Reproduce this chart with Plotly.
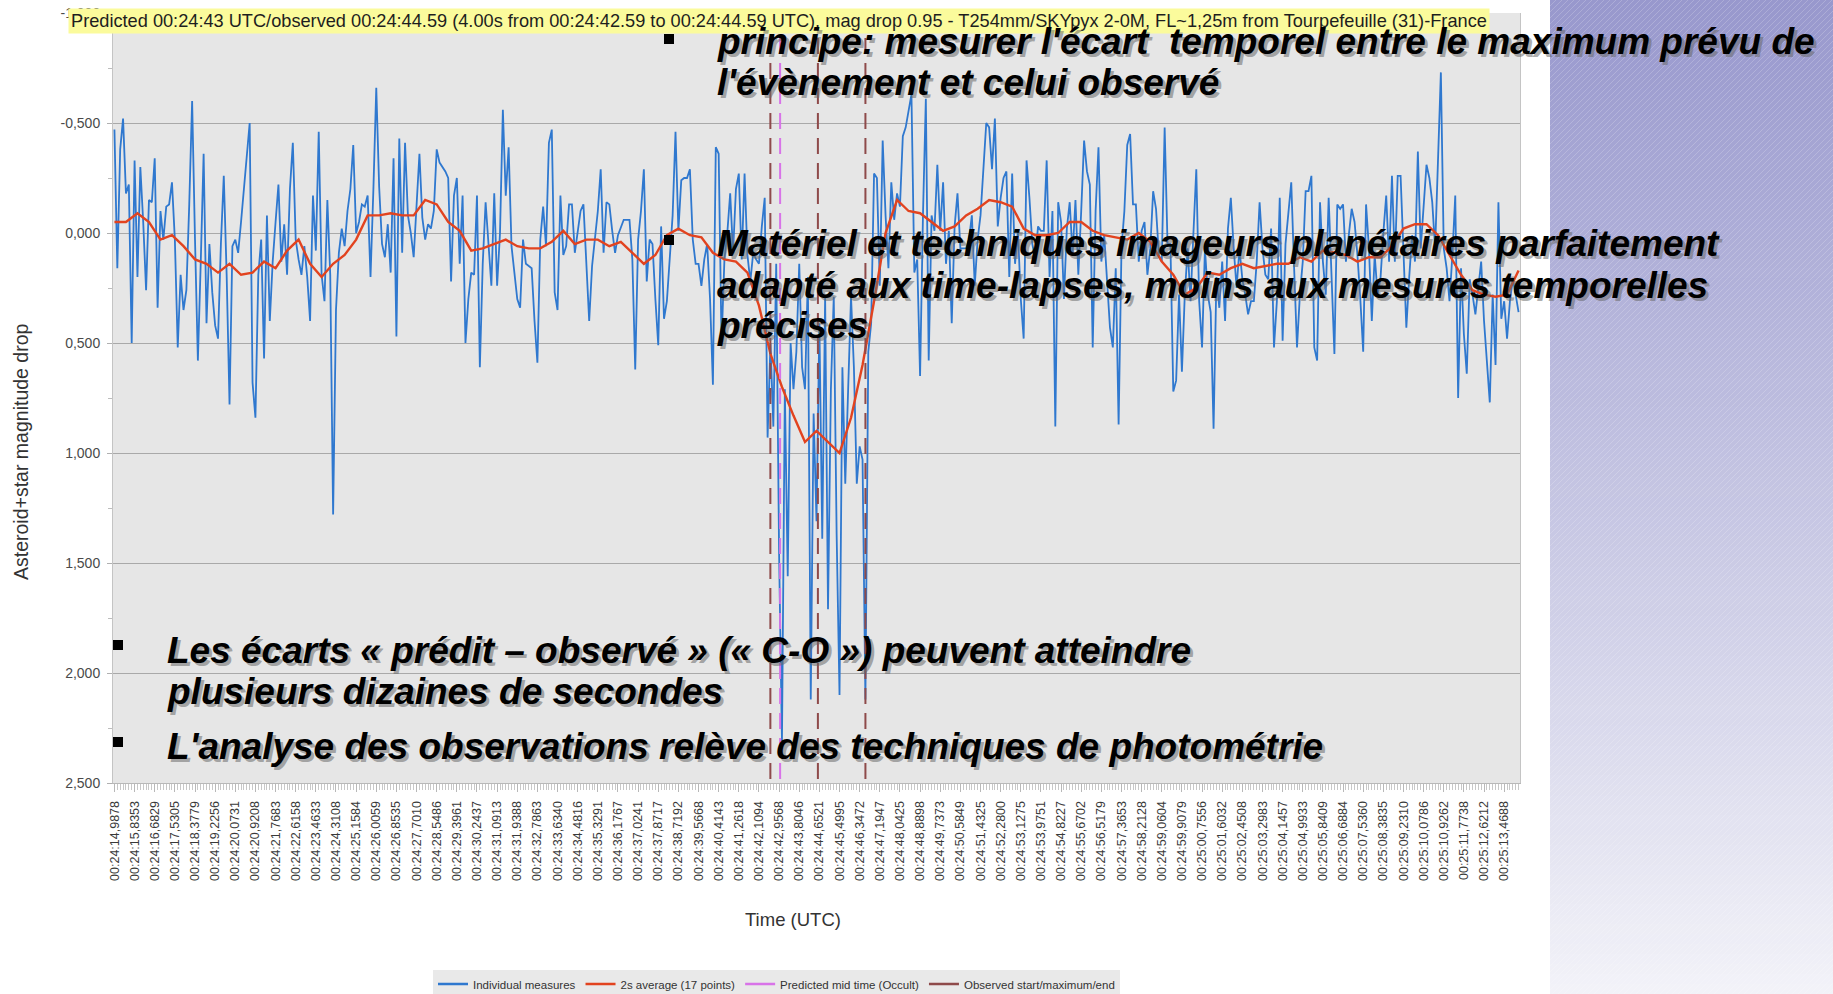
import plotly.graph_objects as go

W, H = 1833, 994

# ---------------- data ----------------
time_labels = [
    "00:24:14,9878", "00:24:15,8353", "00:24:16,6829", "00:24:17,5305", "00:24:18,3779",
    "00:24:19,2256", "00:24:20,0731", "00:24:20,9208", "00:24:21,7683", "00:24:22,6158",
    "00:24:23,4633", "00:24:24,3108", "00:24:25,1584", "00:24:26,0059", "00:24:26,8535",
    "00:24:27,7010", "00:24:28,5486", "00:24:29,3961", "00:24:30,2437", "00:24:31,0913",
    "00:24:31,9388", "00:24:32,7863", "00:24:33,6340", "00:24:34,4816", "00:24:35,3291",
    "00:24:36,1767", "00:24:37,0241", "00:24:37,8717", "00:24:38,7192", "00:24:39,5668",
    "00:24:40,4143", "00:24:41,2618", "00:24:42,1094", "00:24:42,9568", "00:24:43,8046",
    "00:24:44,6521", "00:24:45,4995", "00:24:46,3472", "00:24:47,1947", "00:24:48,0425",
    "00:24:48,8898", "00:24:49,7373", "00:24:50,5849", "00:24:51,4325", "00:24:52,2800",
    "00:24:53,1275", "00:24:53,9751", "00:24:54,8227", "00:24:55,6702", "00:24:56,5179",
    "00:24:57,3653", "00:24:58,2128", "00:24:59,0604", "00:24:59,9079", "00:25:00,7556",
    "00:25:01,6032", "00:25:02,4508", "00:25:03,2983", "00:25:04,1457", "00:25:04,9933",
    "00:25:05,8409", "00:25:06,6884", "00:25:07,5360", "00:25:08,3835", "00:25:09,2310",
    "00:25:10,0786", "00:25:10,9262", "00:25:11,7738", "00:25:12,6212", "00:25:13,4688",
]
POINTS_PER_LABEL = 7

# individual measures (magnitude drop), one per frame
blue = [
    -0.47, 0.16, -0.38, -0.52, -0.18, -0.22, 0.50, -0.33, 0.20, -0.30,
    -0.05, 0.26, -0.15, -0.14, -0.34, 0.34, -0.10, 0.03, -0.12, -0.13,
    -0.23, 0.03, 0.52, 0.19, 0.35, 0.26, -0.13, -0.60, 0.03, 0.58,
    0.13, -0.36, 0.41, 0.05, 0.27, 0.42, 0.48, 0.05, -0.26, 0.19,
    0.78, 0.06, 0.03, 0.09, -0.05, -0.21, -0.35, -0.50, 0.68, 0.84,
    0.19, 0.03, 0.57, -0.08, 0.40, 0.13, -0.05, -0.22, 0.13, -0.04,
    0.19, -0.20, -0.41, 0.03, 0.12, 0.19, 0.06, 0.20, 0.40, -0.17,
    0.08, -0.46, 0.19, 0.31, -0.15, 0.19, 1.28, 0.35, 0.09, -0.02,
    0.06, -0.10, -0.20, -0.40, 0.00, -0.05, -0.13, -0.12, -0.17, 0.20,
    -0.20, -0.66, -0.21, 0.05, 0.11, -0.04, 0.18, -0.34, 0.47, -0.43,
    0.09, -0.41, -0.08, 0.00, 0.11, -0.10, -0.36, -0.07, 0.03, -0.04,
    -0.02, -0.10, -0.38, -0.32, -0.30, -0.28, -0.25, 0.22, -0.17, -0.25,
    0.14, -0.17, 0.50, 0.30, 0.18, 0.19, -0.17, 0.61, 0.14, -0.14,
    0.05, 0.24, -0.18, 0.24, 0.00, -0.56, -0.17, -0.39, 0.06, 0.19,
    0.30, 0.34, 0.03, 0.14, 0.15, 0.16, 0.40, 0.59, 0.03, -0.12,
    0.06, -0.41, -0.47, 0.27, 0.35, -0.17, 0.10, 0.06, -0.13, -0.13,
    0.09, 0.00, -0.10, -0.13, 0.12, 0.40, 0.15, 0.03, -0.10, -0.29,
    0.09, -0.14, -0.13, -0.01, 0.09, 0.01, -0.03, -0.06, -0.06, -0.06,
    0.12, 0.62, 0.03, -0.10, -0.29, 0.22, 0.03, 0.05, 0.30, 0.51,
    -0.03, 0.39, 0.31, 0.10, -0.08, -0.46, -0.01, -0.24, -0.25, -0.25,
    -0.29, 0.03, 0.14, 0.14, 0.24, 0.12, 0.05, 0.30, 0.69, -0.39,
    -0.36, 0.50, 0.12, 0.00, -0.18, 0.09, -0.20, -0.27, 0.12, -0.27,
    0.10, 0.22, 0.09, 0.12, 0.14, -0.03, -0.16, 0.93, 0.50, 0.88,
    0.14, 1.46, 2.31, 0.71, 1.56, 0.50, 0.71, 0.54, 0.14, 0.61,
    0.71, 0.20, 2.12, 0.82, 1.31, 0.41, 1.39, 0.29, 1.71, 0.71,
    0.29, 1.37, 2.10, 0.61, 1.14, 0.71, 0.29, 0.61, 1.14, 0.97,
    1.03, 2.12, 0.54, 0.41, -0.27, -0.25, 0.24, -0.42, -0.08, 0.16,
    -0.23, -0.06, -0.18, -0.12, -0.44, -0.48, -0.55, -0.63, 0.18, 0.12,
    0.65, -0.08, -0.61, 0.58, -0.08, -0.01, -0.31, -0.01, -0.23, 0.14,
    -0.01, 0.41, -0.03, -0.18, 0.07, 0.07, 0.07, 0.03, -0.08, 0.24,
    0.03, -0.08, -0.30, -0.50, -0.48, -0.29, -0.52, -0.03, -0.16, -0.25,
    -0.28, 0.20, -0.27, 0.14, -0.01, 0.30, 0.48, -0.33, -0.16, 0.05,
    0.12, -0.03, -0.01, -0.01, -0.33, 0.20, -0.10, 0.88, -0.14, -0.05,
    0.30, -0.02, -0.14, 0.10, -0.15, 0.19, -0.10, -0.42, -0.28, -0.22,
    0.52, -0.10, -0.39, 0.13, 0.01, 0.20, 0.43, 0.52, 0.16, 0.87,
    0.07, -0.10, -0.40, -0.45, -0.13, -0.13, 0.13, -0.01, -0.05, 0.19,
    0.07, -0.19, -0.11, 0.10, 0.13, -0.48, 0.05, 0.05, 0.72, 0.67,
    0.28, 0.63, 0.28, 0.07, 0.31, 0.00, -0.29, 0.31, 0.52, 0.07,
    0.28, 0.36, 0.89, 0.20, 0.34, 0.13, 0.40, -0.02, -0.16, 0.07,
    0.25, 0.07, 0.21, 0.28, 0.37, 0.31, 0.31, 0.13, -0.14, 0.07,
    0.19, 0.21, -0.02, 0.52, 0.31, -0.16, 0.49, 0.05, -0.10, -0.23,
    0.16, 0.52, 0.28, 0.13, -0.19, -0.19, -0.26, 0.52, 0.58, -0.14,
    0.13, 0.28, -0.16, 0.20, 0.55, -0.13, -0.11, -0.13, 0.13, 0.01,
    -0.11, -0.05, 0.10, 0.30, 0.54, -0.13, 0.07, 0.40, 0.10, 0.28,
    0.21, 0.00, -0.17, 0.13, -0.26, 0.13, -0.26, -0.26, 0.07, 0.43,
    0.20, 0.01, 0.13, -0.37, 0.07, -0.10, -0.31, -0.25, -0.14, 0.07,
    -0.30, -0.73, 0.07, 0.16, 0.31, 0.10, -0.17, 0.75, 0.16, 0.46,
    0.64, 0.21, 0.28, 0.37, 0.25, 0.13, 0.40, 0.60, 0.77, 0.28,
    0.60, -0.14, 0.39, 0.31, 0.48, 0.31, 0.21, 0.28, 0.36,
]

# 2 s running average, read every 4th frame
RED_STEP = 4
red = [
    -0.05, -0.05, -0.09, -0.05, 0.03, 0.01, 0.06, 0.12, 0.14, 0.18,
    0.14, 0.19, 0.18, 0.13, 0.16, 0.08, 0.03, 0.14, 0.20, 0.14,
    0.10, 0.03, -0.08, -0.08, -0.09, -0.08, -0.08, -0.15, -0.13, -0.05,
    -0.01, 0.08, 0.07, 0.05, 0.03, 0.06, 0.07, 0.07, 0.04, -0.01,
    0.05, 0.03, 0.03, 0.06, 0.04, 0.09, 0.14, 0.10, 0.01, -0.02,
    0.01, 0.02, 0.09, 0.12, 0.13, 0.18, 0.33, 0.55, 0.70, 0.83,
    0.95, 0.90, 0.95, 1.00, 0.84, 0.60, 0.31, 0.00, -0.15, -0.10,
    -0.09, -0.05, -0.01, -0.03, -0.08, -0.11, -0.15, -0.14, -0.12, -0.02,
    0.01, 0.01, 0.00, -0.05, -0.05, -0.01, 0.01, 0.02, 0.03, 0.00,
    0.04, 0.13, 0.19, 0.28, 0.25, 0.18, 0.19, 0.16, 0.14, 0.16,
    0.15, 0.14, 0.14, 0.11, 0.13, 0.08, 0.09, 0.10, 0.13, 0.11,
    0.11, 0.06, -0.02, -0.04, -0.04, 0.01, 0.10, 0.19, 0.26, 0.28,
    0.29, 0.28, 0.17,
]

predicted_mid = [43.00]                  # 00:24:43 UTC (seconds after 00:24:00)
observed_events = [42.59, 44.59, 46.59]  # start / maximum / end

y_tick_vals = [-1.0, -0.5, 0.0, 0.5, 1.0, 1.5, 2.0, 2.5]
y_tick_text = ["-1,000", "-0,500", "0,000", "0,500", "1,000", "1,500", "2,000", "2,500"]

title_text = ("Predicted 00:24:43 UTC/observed 00:24:44.59 (4.00s from 00:24:42.59 to 00:24:44.59 UTC), "
              "mag drop 0.95 - T254mm/SKYpyx 2-0M, FL~1,25m from Tourpefeuille (31)-France")

# ---------------- helpers ----------------
def lab_to_sec(s):
    hh, mm, ss = s.split(":")
    return (int(mm) - 24) * 60 + float(ss.replace(",", "."))

tickvals = [lab_to_sec(s) for s in time_labels]
T0 = tickvals[0]
DT = (tickvals[-1] - tickvals[0]) / ((len(tickvals) - 1) * POINTS_PER_LABEL)
bx = [T0 + i * DT for i in range(len(blue))]
rx = [T0 + i * RED_STEP * DT for i in range(len(red))]

def px(x):
    return x / W

def py(y):
    return 1 - y / H

NARROW = "Liberation Sans Narrow, Arial Narrow, Liberation Sans, Arial, sans-serif"
SANS = "Liberation Sans, Arial, sans-serif"

fig = go.Figure()

BLUE = "#2f78cf"
RED = "#e2431f"
MAG = "#d873e8"
BROWN = "#8e4a4a"

fig.add_trace(go.Scatter(x=bx, y=blue, mode="lines", line=dict(color=BLUE, width=1.8),
                         name="Individual measures", showlegend=False, hoverinfo="skip"))
fig.add_trace(go.Scatter(x=rx, y=red, mode="lines", line=dict(color=RED, width=2.4),
                         name="2s average (17 points)", showlegend=False, hoverinfo="skip"))

ymin, ymax = -1.0, 2.5
pmx, pmy = [], []
for t in predicted_mid:
    pmx += [t, t, None]
    pmy += [ymin, ymax, None]
fig.add_trace(go.Scatter(x=pmx, y=pmy, mode="lines", line=dict(color=MAG, width=2, dash="16px,9px"),
                         showlegend=False, hoverinfo="skip"))
obx, oby = [], []
for t in observed_events:
    obx += [t, t, None]
    oby += [ymin, ymax, None]
fig.add_trace(go.Scatter(x=obx, y=oby, mode="lines", line=dict(color=BROWN, width=2, dash="16px,9px"),
                         showlegend=False, hoverinfo="skip"))

# legend entries (solid short lines like the original)
for nm, col in [("Individual measures", BLUE), ("2s average (17 points)", RED),
                ("Predicted mid time (Occult)", MAG), ("Observed start/maximum/end", BROWN)]:
    fig.add_trace(go.Scatter(x=[None], y=[None], mode="lines", line=dict(color=col, width=2.5),
                             name=nm, showlegend=True))

fig.update_layout(
    width=W, height=H,
    margin=dict(l=0, r=0, t=0, b=0, autoexpand=False),
    paper_bgcolor="white",
    plot_bgcolor="#e6e6e6",
    showlegend=True,
    legend=dict(orientation="h", x=px(433), xanchor="left", y=py(984), yanchor="middle",
                bgcolor="#e9e9e9", font=dict(family=NARROW, size=11.5, color="#333"),
                itemwidth=30, traceorder="normal", borderwidth=0),
    xaxis=dict(
        domain=[px(113), px(1520)],
        range=[T0 - 0.5 * DT, T0 + (len(blue) - 0.5) * DT],
        tickmode="array", tickvals=tickvals, ticktext=time_labels,
        tickangle=-90, tickfont=dict(family=SANS, size=12.5, color="#3a3a3a"),
        ticks="outside", ticklen=8, tickcolor="#b8b8b8", tickwidth=1,
        ticklabelstandoff=4,
        minor=dict(tick0=T0, dtick=DT, ticks="outside", ticklen=6, tickcolor="#c8c8c8", showgrid=False),
        showgrid=False, zeroline=False, showline=True, linecolor="#b8b8b8", linewidth=1,
        automargin=False,
    ),
    yaxis=dict(
        domain=[py(783), py(13)],
        range=[ymax, ymin],
        tickmode="array", tickvals=y_tick_vals, ticktext=y_tick_text,
        tickfont=dict(family=SANS, size=14, color="#4a4a4a"),
        ticks="outside", ticklen=5, tickcolor="#b0b0b0",
        ticklabelstandoff=4,
        minor=dict(tick0=-1.0, dtick=0.25, ticks="outside", ticklen=4, tickcolor="#bdbdbd", showgrid=False),
        showgrid=True, gridcolor="#a9a9a9", gridwidth=1,
        zeroline=False, showline=True, linecolor="#c4c4c4", linewidth=1, mirror=True,
        automargin=False,
    ),
)

shapes = []
# purple gradient slide panel on the right
top = (152, 152, 205)
bot = (242, 242, 248)
NS = 100
for k in range(NS):
    f = k / (NS - 1)
    c = tuple(int(round(top[j] + (bot[j] - top[j]) * f)) for j in range(3))
    y0 = k * H / NS
    y1 = (k + 1) * H / NS + 0.8
    shapes.append(dict(type="rect", xref="paper", yref="paper", x0=px(1550), x1=1.0,
                       y0=py(min(y1, H)), y1=py(y0), line=dict(width=0),
                       fillcolor="rgb(%d,%d,%d)" % c, layer="below"))
# fine diagonal hatching
segs = []
for kk in range(1550, 1833 + H, 6):
    xa = max(1550, kk - H)
    xb = min(1833, kk)
    if xb <= xa:
        continue
    segs.append("M%.5f,%.5f L%.5f,%.5f" % (px(xa), py(kk - xa), px(xb), py(kk - xb)))
shapes.append(dict(type="path", xref="paper", yref="paper", path=" ".join(segs),
                   line=dict(color="rgba(255,255,255,0.2)", width=1), layer="below"))

# bullets
for (bx0, by0) in [(664, 34), (664, 235), (113, 640), (113, 737)]:
    shapes.append(dict(type="rect", xref="paper", yref="paper",
                       x0=px(bx0), x1=px(bx0 + 10), y0=py(by0 + 10), y1=py(by0),
                       fillcolor="black", line=dict(width=0), layer="above"))
fig.update_layout(shapes=shapes)

ann = []
# chart title in yellow box
ann.append(dict(text=title_text, x=px(68), xanchor="left", y=py(21), yanchor="middle",
                xref="paper", yref="paper", showarrow=False, bgcolor="#fbfb9c", borderpad=2,
                font=dict(family=NARROW, size=18.2, color="#1e1e1e")))
# axis titles
ann.append(dict(text="Asteroid+star magnitude drop", x=px(21), xanchor="center", y=py(452),
                yanchor="middle", xref="paper", yref="paper",
                textangle=-90, showarrow=False, font=dict(family=SANS, size=19.5, color="#333")))
ann.append(dict(text="Time (UTC)", x=px(793), xanchor="center", y=py(919), yanchor="middle",
                xref="paper", yref="paper",
                showarrow=False, font=dict(family=SANS, size=18.5, color="#333")))

# slide bullet text (bold italic with drop shadow)
slide_lines = [
    ("principe: mesurer l'écart\u00a0 temporel entre le maximum prévu de", 715, 54),
    ("l'évènement et celui observé", 715, 95),
    ("Matériel et techniques imageurs planétaires parfaitement", 715, 256),
    ("adapté aux time-lapses, moins aux mesures temporelles", 715, 298),
    ("précises", 715, 338),
    ("Les écarts « prédit – observé » (« C-O ») peuvent atteindre", 165, 663),
    ("plusieurs dizaines de secondes", 165, 704),
    ("L'analyse des observations relève des techniques de photométrie", 165, 759),
]
FS = 37
for txt, lx, base in slide_lines:
    cy = base - 0.3465 * FS
    ann.append(dict(text="<b><i>%s</i></b>" % txt, x=px(lx + 3), xanchor="left", y=py(cy + 3),
                    yanchor="middle", xref="paper", yref="paper", showarrow=False,
                    font=dict(family=SANS, size=FS, color="rgba(105,105,105,0.55)")))
    ann.append(dict(text="<b><i>%s</i></b>" % txt, x=px(lx), xanchor="left", y=py(cy),
                    yanchor="middle", xref="paper", yref="paper", showarrow=False,
                    font=dict(family=SANS, size=FS, color="black")))
fig.update_layout(annotations=ann)

fig.write_html("out.html", config={"displayModeBar": False},
               post_script="document.body.style.margin='0';document.body.style.overflow='hidden';")
